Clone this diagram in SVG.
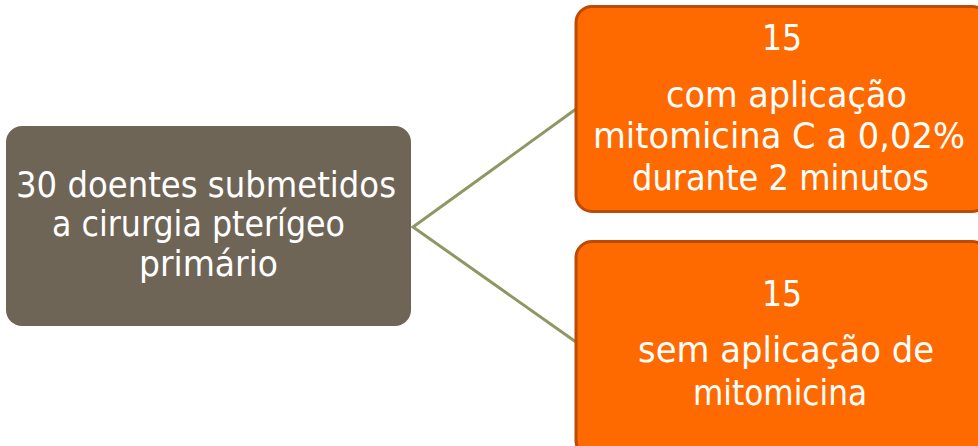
<svg xmlns="http://www.w3.org/2000/svg" width="978" height="446" viewBox="0 0 978 446">
<style>
  .t { font-family: "DejaVu Sans", "Liberation Sans", sans-serif; font-size: 35px; fill: #ffffff; }
  .c { stroke: #8f9763; stroke-width: 3; fill: none; }
  .src { fill: #6f6557; }
  .dst { fill: #ff6a00; stroke: #bb4b06; stroke-width: 3; }
</style>
<rect width="978" height="446" fill="#ffffff"/>
<g id="connectors">
  <path class="c" d="M576,109 L413,227 L576,342"/>
</g>
<g id="node-source">
  <rect class="src" x="6" y="126" width="405" height="200" rx="16" ry="16"/>
  <text class="t" x="16" y="197" textLength="380" lengthAdjust="spacingAndGlyphs">30 doentes submetidos</text>
  <text class="t" x="52" y="236" textLength="293" lengthAdjust="spacingAndGlyphs">a cirurgia pterígeo</text>
  <text class="t" x="139" y="276" textLength="139" lengthAdjust="spacingAndGlyphs">primário</text>
</g>
<g id="node-top">
  <rect class="dst" x="576" y="6.5" width="412" height="205" rx="16" ry="16"/>
  <text class="t" x="762" y="50" textLength="40" lengthAdjust="spacingAndGlyphs">15</text>
  <text class="t" x="666" y="107" textLength="241" lengthAdjust="spacingAndGlyphs">com aplicação</text>
  <text class="t" x="593" y="148" textLength="372" lengthAdjust="spacingAndGlyphs">mitomicina C a 0,02%</text>
  <text class="t" x="632" y="190" textLength="297" lengthAdjust="spacingAndGlyphs">durante 2 minutos</text>
</g>
<g id="node-bottom">
  <rect class="dst" x="576" y="241.5" width="412" height="215" rx="16" ry="16"/>
  <text class="t" x="762" y="306" textLength="40" lengthAdjust="spacingAndGlyphs">15</text>
  <text class="t" x="638" y="362" textLength="296" lengthAdjust="spacingAndGlyphs">sem aplicação de</text>
  <text class="t" x="693" y="405" textLength="174" lengthAdjust="spacingAndGlyphs">mitomicina</text>
</g>
</svg>
